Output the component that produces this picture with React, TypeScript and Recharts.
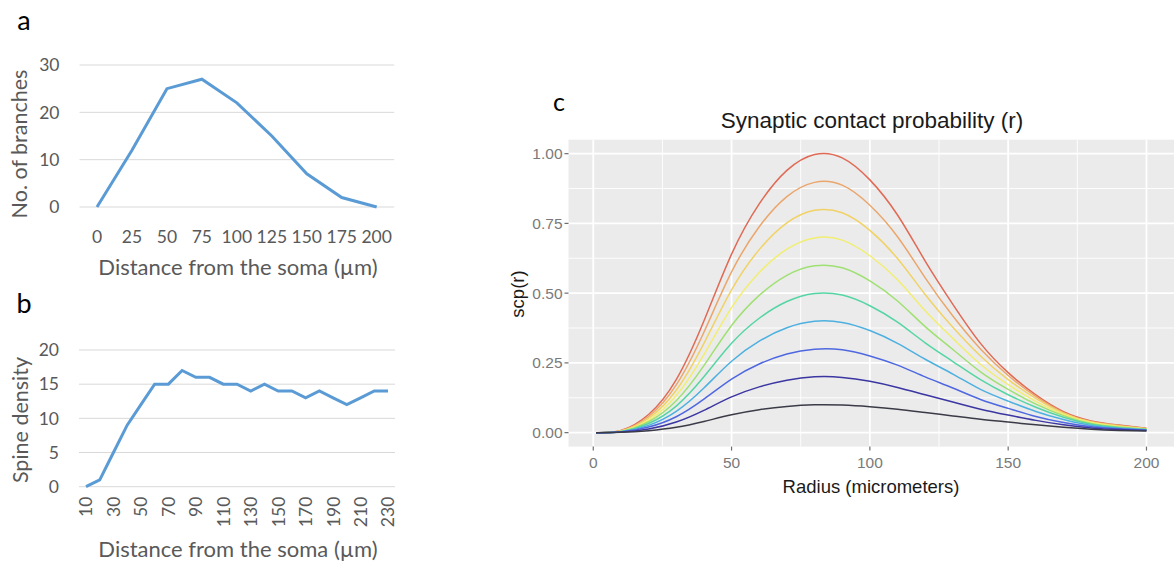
import React from 'react';
import { LineChart, Line, XAxis, YAxis, CartesianGrid } from 'recharts';

// ---------- Panel a ----------
const distA = [0, 25, 50, 75, 100, 125, 150, 175, 200];
const branches = [0, 12, 25, 27, 22, 15, 7, 2, 0];
const ticksA = [0, 10, 20, 30];

// ---------- Panel b ----------
const distB = [10, 20, 30, 40, 50, 60, 70, 80, 90, 100, 110, 120, 130, 140, 150, 160, 170, 180, 190, 200, 210, 220, 230];
const spine = [0, 1, 5, 9, 12, 15, 15, 17, 16, 16, 15, 15, 14, 15, 14, 14, 13, 14, 13, 12, 13, 14, 14];
const ticksB = [0, 5, 10, 15, 20];

// ---------- Panel c ----------
const radius = [1, 10, 20, 30, 40, 50, 60, 70, 80, 90, 100, 110, 120, 130, 140, 150, 160, 170, 180, 190, 200];
const scp100 = [0, 0.008, 0.065, 0.19, 0.4, 0.64, 0.82, 0.94, 0.997, 0.985, 0.906, 0.78, 0.615, 0.46, 0.32, 0.215, 0.135, 0.075, 0.042, 0.027, 0.016];
const scp090 = [0, 0.007, 0.058, 0.171, 0.36, 0.576, 0.738, 0.846, 0.897, 0.887, 0.815, 0.702, 0.555, 0.418, 0.3, 0.205, 0.13, 0.072, 0.04, 0.026, 0.015];
const scp080 = [0, 0.006, 0.052, 0.152, 0.32, 0.512, 0.656, 0.752, 0.797, 0.788, 0.725, 0.624, 0.495, 0.378, 0.275, 0.19, 0.123, 0.07, 0.038, 0.024, 0.014];
const scp070 = [0, 0.005, 0.045, 0.133, 0.28, 0.448, 0.574, 0.658, 0.698, 0.69, 0.634, 0.548, 0.437, 0.338, 0.245, 0.172, 0.112, 0.065, 0.036, 0.022, 0.013];
const scp060 = [0, 0.004, 0.039, 0.114, 0.24, 0.384, 0.492, 0.564, 0.598, 0.591, 0.544, 0.472, 0.38, 0.298, 0.218, 0.155, 0.102, 0.061, 0.033, 0.02, 0.012];
const scp050 = [0, 0.004, 0.033, 0.095, 0.2, 0.32, 0.41, 0.47, 0.499, 0.493, 0.455, 0.396, 0.322, 0.255, 0.19, 0.136, 0.091, 0.055, 0.03, 0.018, 0.011];
const scp040 = [0, 0.003, 0.026, 0.076, 0.16, 0.256, 0.328, 0.376, 0.399, 0.395, 0.366, 0.32, 0.263, 0.21, 0.155, 0.113, 0.076, 0.047, 0.026, 0.016, 0.01];
const scp030 = [0, 0.002, 0.02, 0.057, 0.12, 0.192, 0.246, 0.282, 0.299, 0.297, 0.275, 0.242, 0.2, 0.16, 0.119, 0.087, 0.058, 0.036, 0.021, 0.014, 0.009];
const scp020 = [0, 0.002, 0.013, 0.038, 0.08, 0.128, 0.164, 0.188, 0.2, 0.198, 0.184, 0.162, 0.136, 0.11, 0.084, 0.063, 0.044, 0.028, 0.017, 0.011, 0.008];
const scp010 = [0, 0.001, 0.007, 0.019, 0.04, 0.064, 0.082, 0.094, 0.1, 0.099, 0.093, 0.084, 0.072, 0.06, 0.048, 0.038, 0.028, 0.019, 0.012, 0.008, 0.006];
const ticksCx = [0, 50, 100, 150, 200];
const ticksCy = [0, 0.25, 0.5, 0.75, 1];
const minorCx = [25, 75, 125, 175];
const minorCy = [0.125, 0.375, 0.625, 0.875];

const seriesC = [
  { key: 'p100', values: scp100, color: '#e06a55' },
  { key: 'p090', values: scp090, color: '#eba66c' },
  { key: 'p080', values: scp080, color: '#f1d266' },
  { key: 'p070', values: scp070, color: '#f1ee72' },
  { key: 'p060', values: scp060, color: '#9fe072' },
  { key: 'p050', values: scp050, color: '#56d5a4' },
  { key: 'p040', values: scp040, color: '#4db0e0' },
  { key: 'p030', values: scp030, color: '#4f68e0' },
  { key: 'p020', values: scp020, color: '#3b36a2' },
  { key: 'p010', values: scp010, color: '#3b3b48' },
];

const dataA = distA.map((d, i) => ({ d, v: branches[i] }));
const dataB = distB.map((d, i) => ({ d, v: spine[i] }));
const dataC = radius.map((r, i) => {
  const row: any = { r };
  seriesC.forEach((s) => { row[s.key] = s.values[i]; });
  return row;
});

const excelFont = 'Lato, "Open Sans", sans-serif';
const ggFont = '"Liberation Sans", Arial, sans-serif';
const excelGray = '#595959';

const Txt = ({ x, y, size, color, family, rotate, children }: any) => (
  <div
    style={{
      position: 'absolute',
      left: x,
      top: y,
      transform: `translate(-50%, -50%)${rotate ? ` rotate(${rotate}deg)` : ''}`,
      fontSize: size,
      color,
      fontFamily: family,
      lineHeight: 1,
      whiteSpace: 'nowrap',
    }}
  >
    {children}
  </div>
);

const RotTick = (props: any) => {
  const { x, y, payload } = props;
  return (
    <text
      x={x}
      y={y}
      transform={`rotate(-90 ${x} ${y})`}
      textAnchor="end"
      dominantBaseline="central"
      fill={excelGray}
      fontSize={17.5}
      fontFamily={excelFont}
    >
      {payload.value}
    </text>
  );
};

export default function App() {
  return (
    <div style={{ position: 'absolute', left: 0, top: 0, width: 1174, height: 565, background: '#ffffff', overflow: 'hidden' }}>
      {/* Panel a */}
      <div style={{ position: 'absolute', left: 0, top: 0 }}>
        <LineChart width={420} height={290} data={dataA} margin={{ top: 65, right: 25.8, bottom: 0, left: 0 }}>
          <CartesianGrid vertical={false} stroke="#d9d9d9" strokeWidth={1} />
          <XAxis
            dataKey="d"
            type="category"
            height={83}
            interval={0}
            padding={{ left: 17.5, right: 17.5 }}
            axisLine={false}
            tickLine={false}
            tickSize={0}
            tickMargin={24}
            tick={{ fill: excelGray, fontSize: 17.5, fontFamily: excelFont }}
          />
          <YAxis
            width={79.5}
            domain={[0, 30]}
            ticks={ticksA}
            axisLine={false}
            tickLine={false}
            tickSize={0}
            tickMargin={20}
            tick={{ fill: excelGray, fontSize: 17.5, fontFamily: excelFont }}
          />
          <Line dataKey="v" type="linear" stroke="#5b9bd5" strokeWidth={3} dot={false} isAnimationActive={false} />
        </LineChart>
      </div>

      {/* Panel b */}
      <div style={{ position: 'absolute', left: 0, top: 280 }}>
        <LineChart width={420} height={285} data={dataB} margin={{ top: 70, right: 25, bottom: 0, left: 0 }}>
          <CartesianGrid vertical={false} stroke="#d9d9d9" strokeWidth={1} />
          <XAxis
            dataKey="d"
            type="category"
            height={78.3}
            interval={1}
            padding={{ left: 7, right: 7 }}
            axisLine={false}
            tickLine={false}
            tickSize={0}
            tickMargin={10}
            tick={<RotTick />}
          />
          <YAxis
            width={79}
            domain={[0, 20]}
            ticks={ticksB}
            axisLine={false}
            tickLine={false}
            tickSize={0}
            tickMargin={20}
            tick={{ fill: excelGray, fontSize: 17.5, fontFamily: excelFont }}
          />
          <Line dataKey="v" type="linear" stroke="#5b9bd5" strokeWidth={3} dot={false} isAnimationActive={false} />
        </LineChart>
      </div>

      {/* Panel c */}
      <div style={{ position: 'absolute', left: 500, top: 90 }}>
        <LineChart width={674} height={475} data={dataC} margin={{ top: 49.7, right: 0, bottom: 0, left: 0 }}>
          <CartesianGrid
            fill="#ebebeb"
            fillOpacity={1}
            stroke="#ffffff"
            strokeWidth={0.9}
            horizontalValues={minorCy}
            verticalValues={minorCx}
          />
          <CartesianGrid stroke="#ffffff" strokeWidth={1.8} horizontalValues={ticksCy} verticalValues={ticksCx} />
          <XAxis
            dataKey="r"
            type="number"
            domain={[-8.95, 209.95]}
            allowDataOverflow
            ticks={ticksCx}
            height={118.4}
            axisLine={false}
            tickLine={{ stroke: '#6f6f6f', strokeWidth: 1.2 }}
            tickSize={4}
            tickMargin={6}
            tick={{ fill: '#7a7a7a', fontSize: 15.5, fontFamily: ggFont }}
          />
          <YAxis
            width={68.5}
            type="number"
            domain={[-0.05, 1.05]}
            allowDataOverflow
            ticks={ticksCy}
            tickFormatter={(v: number) => v.toFixed(2)}
            axisLine={false}
            tickLine={{ stroke: '#6f6f6f', strokeWidth: 1.2 }}
            tickSize={4}
            tickMargin={2}
            tick={{ fill: '#7a7a7a', fontSize: 15.5, fontFamily: ggFont }}
          />
          {seriesC.map((s) => (
            <Line
              key={s.key}
              dataKey={s.key}
              type="natural"
              stroke={s.color}
              strokeWidth={1.5}
              dot={false}
              isAnimationActive={false}
            />
          ))}
        </LineChart>
      </div>

      {/* Text overlays */}
      <Txt x={24} y={19} size={27} color="#000" family={excelFont}>a</Txt>
      <Txt x={24} y={302} size={27} color="#000" family={excelFont}>b</Txt>
      <Txt x={559} y={101} size={25} color="#000" family={excelFont}>c</Txt>
      <Txt x={20} y={144} size={21.5} color={excelGray} family={excelFont} rotate={-90}>No. of branches</Txt>
      <Txt x={238} y={267} size={22} color={excelGray} family={excelFont}>Distance from the soma (µm)</Txt>
      <Txt x={21} y={420} size={21.5} color={excelGray} family={excelFont} rotate={-90}>Spine density</Txt>
      <Txt x={238} y={549} size={22} color={excelGray} family={excelFont}>Distance from the soma (µm)</Txt>
      <Txt x={872} y={121} size={22.5} color="#1a1a1a" family={ggFont}>Synaptic contact probability (r)</Txt>
      <Txt x={518} y={294} size={18.5} color="#1a1a1a" family={ggFont} rotate={-90}>scp(r)</Txt>
      <Txt x={871} y={487} size={18.5} color="#1a1a1a" family={ggFont}>Radius (micrometers)</Txt>
    </div>
  );
}
